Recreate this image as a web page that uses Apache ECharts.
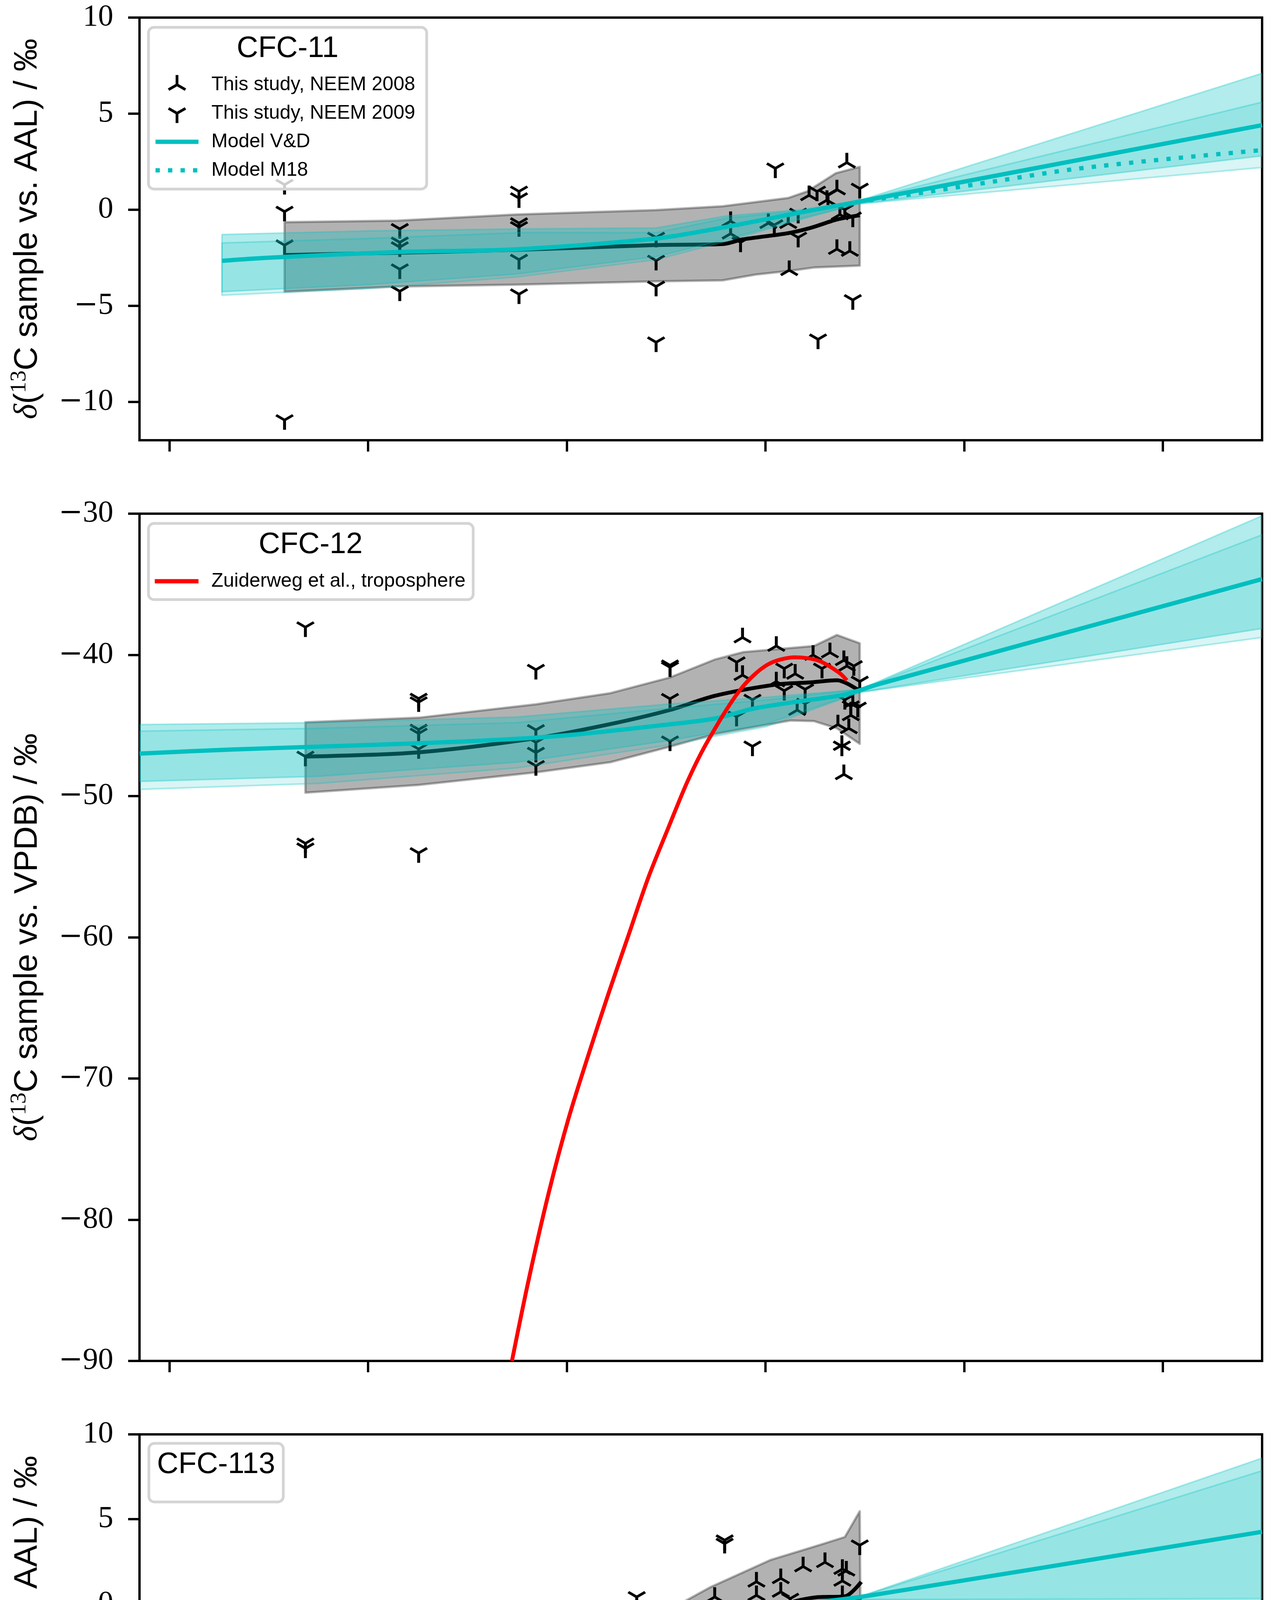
<!DOCTYPE html>
<html><head><meta charset="utf-8">
<script src="https://cdn.jsdelivr.net/npm/echarts@6/dist/echarts.min.js"></script>
<style>html,body{margin:0;padding:0;background:#fff}#c{width:3263px;height:4997px}</style>
</head><body><div id="c"></div>
<script>
// ---------------- DATA ----------------
var xTicks = [1940, 1960, 1980, 2000, 2020, 2040];
var cfc11Ticks = [-10, -5, 0, 5, 10];

// CFC-11
var cfc11_neem2008 = [[1996.5,-0.6],[1996.5,-1.25],[2000.3,-0.7],[2002.3,-0.7],[2002.4,-3.15],[2004.4,0.75],[2006.2,0.5],[2007.2,1.05],[2007.2,-2.05],[2007.5,-0.25],[2008.2,2.45],[2008.5,-2.15]];
var cfc11_neem2009 = [[1951.6,1.3],[1951.6,-0.1],[1951.6,-1.85],[1951.6,-10.95],[1963.2,-1.0],[1963.2,-1.7],[1963.2,-1.95],[1963.2,-3.1],[1963.2,-4.25],[1975.2,0.95],[1975.2,0.6],[1975.2,-0.7],[1975.2,-0.9],[1975.2,-2.6],[1975.2,-4.4],[1989.0,-1.45],[1989.0,-2.65],[1989.0,-4.0],[1989.0,-6.9],[1997.5,-1.7],[2000.9,-0.8],[2001.0,2.15],[2003.3,-0.2],[2003.3,-1.45],[2005.2,0.95],[2005.3,-6.75],[2006.3,0.75],[2008.0,0.0],[2008.8,-0.4],[2008.8,-4.7],[2009.5,1.1]];
var cfc11_vd = [[1945.3,-2.66],[1950,-2.5],[1963.2,-2.2],[1975,-2.06],[1989,-1.5],[1996,-0.9],[2003.5,-0.15],[2009.2,0.4],[2050,4.4]];
var cfc11_m18 = [[2009.2,0.4],[2016,0.9],[2023.4,1.5],[2030.9,2.1],[2040.9,2.66],[2050,3.1]];
var cfc11_fit = [[1951.6,-2.36],[1963,-2.24],[1975,-2.09],[1989,-1.84],[1995.7,-1.79],[1997.7,-1.55],[2002.3,-1.22],[2004.6,-0.94],[2007.2,-0.51],[2009.5,-0.29]];
var cfc11_fit_upper = [[1951.6,-0.65],[1963,-0.57],[1975,-0.25],[1989,-0.02],[1995.7,0.18],[2002.3,0.61],[2004.2,0.95],[2007.1,1.9],[2009.5,2.23]];
var cfc11_fit_lower = [[1951.6,-4.27],[1963,-4.0],[1975,-3.9],[1989,-3.73],[1995.7,-3.68],[1999,-3.38],[2002.5,-3.18],[2004.9,-3.01],[2009.5,-2.91]];
var cfc11_vd_upper = [[1945.3,-1.29],[1960,-1.1],[1975,-1.0],[1989,-0.95],[1996,-0.33],[2003.6,0.0],[2009.3,0.45],[2050,7.1]];
var cfc11_vd_lower = [[1945.3,-4.27],[1960,-3.9],[1975,-3.35],[1989,-2.45],[1996,-1.55],[2003.6,-0.45],[2009.3,0.3],[2050,2.8]];
var cfc11_m18_upper = [[1945.3,-1.73],[1960,-1.5],[1975,-1.2],[1989,-1.2],[1996,-0.45],[2003.6,-0.05],[2009.3,0.45],[2050,5.6]];
var cfc11_m18_lower = [[1945.3,-4.45],[1960,-4.1],[1975,-3.5],[1989,-2.6],[1996,-1.65],[2003.6,-0.5],[2009.3,0.3],[2050,2.2]];

// CFC-12
var cfc12_neem2008 = [[1997.7,-38.77],[2001.1,-39.37],[1997.7,-41.43],[2003.0,-41.34],[2001.1,-41.89],[2003.2,-43.91],[2004.8,-40.01],[2006.5,-39.83],[2007.9,-40.38],[2008.2,-40.79],[2008.8,-43.36],[2008.6,-44.28],[2007.3,-44.93],[2008.4,-45.2],[2007.7,-46.39],[2007.9,-48.46]];
var cfc12_neem2009 = [[1953.7,-38.04],[1953.7,-47.2],[1953.7,-53.35],[1953.7,-53.7],[1965.1,-43.1],[1965.1,-43.35],[1965.1,-45.29],[1965.1,-45.57],[1965.1,-46.67],[1965.1,-54.03],[1976.9,-41.05],[1976.9,-45.32],[1976.9,-46.2],[1976.9,-46.92],[1976.9,-47.86],[1990.4,-40.74],[1990.4,-40.88],[1990.4,-43.11],[1990.4,-46.12],[1997.1,-40.52],[1998.7,-43.17],[1997.1,-44.37],[1998.7,-46.48],[2001.9,-40.97],[2001.9,-42.54],[2004.0,-42.44],[2004.0,-43.45],[2005.7,-40.97],[2008.9,-40.79],[2009.5,-41.89],[2008.0,-43.18],[2008.6,-43.64],[2009.3,-43.73],[2007.7,-46.48]];
var cfc12_vd = [[1937,-46.99],[1946.3,-46.7],[1955.8,-46.48],[1970.1,-46.12],[1979.6,-45.72],[1989.2,-45.01],[1994.9,-44.51],[1998.7,-43.82],[2002.8,-43.35],[2008,-42.81],[2011.4,-42.07],[2050,-34.63]];
var cfc12_fit = [[1953.7,-47.2],[1965.1,-46.9],[1976.9,-45.9],[1984.4,-44.9],[1990.4,-43.9],[1994.9,-42.9],[2001.1,-42.1],[2004.5,-41.95],[2007.2,-41.8],[2009.6,-42.6]];
var cfc12_fit_upper = [[1953.7,-44.77],[1965.1,-44.45],[1976.9,-43.5],[1984.4,-42.71],[1990.4,-41.6],[1994.9,-40.33],[1997.8,-39.8],[2004.9,-39.37],[2007.2,-38.59],[2009.5,-39.18]];
var cfc12_fit_lower = [[1953.7,-49.76],[1965.1,-49.21],[1976.9,-48.32],[1984.4,-47.6],[1990.4,-46.5],[1994.9,-45.61],[2002.5,-44.65],[2004.9,-44.69],[2007.2,-45.2],[2009.5,-46.3]];
var cfc12_vd_upper = [[1937,-44.93],[1955,-44.8],[1975,-44.4],[1990,-43.5],[2000,-43.0],[2009.5,-42.45],[2050,-30.15]];
var cfc12_vd_lower = [[1937,-48.96],[1955,-48.6],[1975,-47.6],[1990,-46.1],[2000,-44.9],[2009.5,-42.65],[2050,-38.13]];
var cfc12_m18_upper = [[1937,-45.4],[1955,-45.2],[1975,-44.8],[1990,-43.8],[2000,-43.2],[2009.5,-42.45],[2050,-31.5]];
var cfc12_m18_lower = [[1937,-49.52],[1955,-49.1],[1975,-48.0],[1990,-46.4],[2000,-45.1],[2009.5,-42.65],[2050,-38.76]];
var cfc12_zuiderweg = [[1974.49,-90],[1976.19,-84.2],[1978.19,-78.1],[1980.2,-72.8],[1982.2,-68.3],[1984.2,-64.0],[1986.2,-59.9],[1988.2,-55.8],[1990.2,-52.3],[1992.2,-48.9],[1994.2,-46.1],[1997.5,-42.44],[2000.2,-40.7],[2003.0,-40.17],[2005.4,-40.42],[2007.4,-41.25],[2008.2,-41.8]];

// CFC-113
var cfc113_neem2008 = [[1994.9,0.4],[1994.9,-0.95],[1999.1,1.3],[1999.1,0.5],[2001.55,1.5],[2001.55,0.7],[2003.8,2.2],[2003.8,-1.45],[2006.0,2.45],[2006.0,-1.1],[2007.75,2.05],[2008.15,1.95],[2007.75,1.35],[2007.75,0.5],[2008.5,-0.95],[2008.15,-2.4]];
var cfc113_neem2009 = [[1973.0,-2.55],[1973.0,-9.75],[1973.0,-9.9],[1973.0,-11.1],[1973.0,-13.8],[1973.0,-14.0],[1987.05,0.4],[1987.05,-2.55],[1987.05,-5.4],[1987.05,-12.55],[1994.1,-2.0],[1994.1,-2.35],[1995.9,3.75],[1995.9,3.55],[1999.8,-0.9],[1999.8,-1.1],[2002.5,0.3],[2002.5,-0.6],[2004.75,-0.25],[2004.75,-1.5],[2007.3,-0.55],[2007.3,-1.3],[2008.8,0.05],[2008.8,-1.35],[2009.5,3.45]];
var cfc113_vd = [[1961.4,-1.66],[1972.4,-1.39],[1986.4,-1.18],[1992.8,-0.9],[1996.9,-0.62],[2003.4,-0.06],[2011,0.53],[2050,4.25]];
var cfc113_fit = [[1972.9,-7.67],[1977.7,-6.96],[1982.2,-5.98],[1987.05,-4.75],[1989.95,-3.78],[1994.1,-2.37],[1997.0,-1.31],[1999.8,-0.6],[2002.25,0.02],[2005.0,0.37],[2008.0,0.44],[2009.65,1.29]];
var cfc113_fit_upper = [[1973.0,-4.48],[1977.7,-3.86],[1982.9,-2.72],[1988.2,-1.04],[1994.5,0.99],[2000.5,2.58],[2005.4,3.46],[2008.0,3.94],[2009.5,5.46]];
var cfc113_fit_lower = [[1973.0,-10.76],[1977.7,-10.04],[1982.9,-8.9],[1988.2,-7.48],[1994.5,-5.54],[2000.5,-3.95],[2003.5,-2.98],[2005.0,-2.98],[2006.5,-3.35],[2008.0,-2.88],[2009.6,-2.92]];
var cfc113_vd_upper = [[1961.4,-0.07],[1990,-0.05],[1996.9,0.0],[2003.4,0.15],[2009.5,0.42],[2050,8.6]];
var cfc113_vd_lower = [[1961.4,-2.8],[1986.4,-2.45],[1996.9,-1.55],[2003.4,-0.5],[2009.5,0.25],[2050,0.3]];
var cfc113_m18_upper = [[1961.4,-0.1],[1990,-0.08],[1996.9,-0.05],[2003.4,0.1],[2009.5,0.42],[2050,7.85]];
var cfc113_m18_lower = [[1961.4,-3.5],[1986.4,-2.7],[1996.9,-1.7],[2003.4,-0.6],[2009.5,0.22],[2050,0.2]];

// ---------------- STYLE / HELPERS ----------------
var SERIF = "'Liberation Serif', 'DejaVu Serif', serif";
var SANS = "'Liberation Sans', 'DejaVu Sans', sans-serif";
var CYAN = '#00bfbf';
var TRI_DOWN = 'path://M0,0L0,100M0,0L-86.6,-50M0,0L86.6,-50';
var TRI_UP = 'path://M0,0L0,-100M0,0L-86.6,50M0,0L86.6,50';
var GRID_LEFT = 357, GRID_W = 2873;
var grids = [
  {left: GRID_LEFT, top: 45, width: GRID_W, height: 1082},
  {left: GRID_LEFT, top: 1315, width: GRID_W, height: 2169},
  {left: GRID_LEFT, top: 3672, width: GRID_W, height: 1084}
];

function band(ax, upper, lower, fill, stroke, lw, z) {
  return {
    type: 'custom', xAxisIndex: ax, yAxisIndex: ax, z: z, clip: true, silent: true,
    data: upper,
    renderItem: function (params, api) {
      if (params.dataIndex !== 0) return null;
      var pts = [];
      for (var i = 0; i < upper.length; i++) pts.push(api.coord(upper[i]));
      for (var j = lower.length - 1; j >= 0; j--) pts.push(api.coord(lower[j]));
      return {type: 'polygon', shape: {points: pts}, style: {fill: fill, stroke: stroke, lineWidth: lw, lineJoin: 'round'}};
    }
  };
}
function lineS(ax, data, color, width, z, dash) {
  return {
    type: 'line', xAxisIndex: ax, yAxisIndex: ax, data: data, showSymbol: false, symbol: 'none',
    smooth: 0.3, silent: true, z: z,
    lineStyle: {color: color, width: width, type: dash || 'solid', cap: 'butt', join: 'round'}
  };
}
function triS(ax, data, up) {
  return {
    type: 'scatter', xAxisIndex: ax, yAxisIndex: ax, data: data, silent: true, z: 3,
    symbol: up ? TRI_UP : TRI_DOWN, symbolSize: [43, 37.5],
    symbolOffset: [0, up ? '-16.667%' : '16.667%'],
    itemStyle: {color: 'rgba(0,0,0,0)', borderColor: '#000', borderWidth: 7, opacity: 1}
  };
}
function minusFmt(v) { return v < 0 ? '{m|\u2212}' + Math.abs(v) : String(v); }
var labelRich = {m: {fontFamily: "'DejaVu Serif', serif", fontSize: 74, color: '#000'}};
function xAxisCfg(gi) {
  var c = {
    type: 'value', gridIndex: gi, min: 1937, max: 2050,
    axisLine: {show: true, onZero: false, lineStyle: {color: '#000', width: 6}},
    axisTick: {show: true, length: 29, customValues: xTicks, lineStyle: {color: '#000', width: 6}},
    axisLabel: {show: gi === 2, customValues: xTicks, color: '#000', fontFamily: SERIF, fontSize: 78, margin: 50},
    splitLine: {show: false}
  };
  if (gi === 2) {
    c.name = 'Date'; c.nameLocation = 'middle'; c.nameGap = 158;
    c.nameTextStyle = {fontFamily: SANS, fontSize: 82, color: '#000'};
  }
  return c;
}
function yAxisCfg(gi, min, max, interval, custom, ref) {
  var c = {
    type: 'value', gridIndex: gi, min: min, max: max,
    axisLine: {show: true, onZero: false, lineStyle: {color: '#000', width: 6}},
    axisTick: {show: true, length: 29, lineStyle: {color: '#000', width: 6}},
    axisLabel: {show: true, color: '#000', fontFamily: SERIF, fontSize: 78, margin: 67, formatter: minusFmt, rich: labelRich},
    splitLine: {show: false},
    name: '{d|\u03b4}{t|(}{s|13}{t|C sample vs. ' + ref + ') / \u2030}',
    nameLocation: 'middle', nameGap: 236, nameRotate: 90,
    nameTextStyle: {
      color: '#000',
      rich: {
        d: {fontFamily: SERIF, fontStyle: 'italic', fontSize: 84, lineHeight: 100, color: '#000'},
        t: {fontFamily: SANS, fontSize: 84, lineHeight: 100, color: '#000'},
        s: {fontFamily: SERIF, fontSize: 58, lineHeight: 58, verticalAlign: 'top', color: '#000'}
      }
    }
  };
  if (interval) c.interval = interval;
  if (custom) { c.axisTick.customValues = custom; c.axisLabel.customValues = custom; }
  return c;
}

// legend graphics
function gRect(x, y, w, h) {
  return {type: 'rect', z: 100, shape: {x: x, y: y, width: w, height: h, r: 14},
    style: {fill: 'rgba(255,255,255,0.8)', stroke: '#d4d4d4', lineWidth: 7}};
}
function gText(x, y, str, size, align) {
  return {type: 'text', z: 101, x: x, y: y,
    style: {text: str, font: size + 'px ' + SANS, fill: '#000', align: align, verticalAlign: 'middle',
      textAlign: align, textVerticalAlign: 'middle'}};
}
function gLine(x1, y1, x2, y2, color, w, dash) {
  var s = {stroke: color, lineWidth: w, lineCap: 'butt'};
  if (dash) s.lineDash = dash;
  return {type: 'line', z: 101, shape: {x1: x1, y1: y1, x2: x2, y2: y2}, style: s};
}
function gTri(cx, cy, up) {
  var L = 25, dx = 0.866 * L, s = up ? -1 : 1;
  return [
    gLine(cx, cy, cx, cy + s * L, '#000', 7),
    gLine(cx, cy, cx - dx, cy - s * 0.5 * L, '#000', 7),
    gLine(cx, cy, cx + dx, cy - s * 0.5 * L, '#000', 7)
  ];
}
var graphics = [];
// CFC-11 legend
graphics.push(gRect(380, 70, 712, 414));
graphics.push(gText(736, 125, 'CFC-11', 76, 'center'));
graphics = graphics.concat(gTri(453, 217, true));
graphics.push(gText(541, 217, 'This study, NEEM 2008', 50, 'left'));
graphics = graphics.concat(gTri(453, 290, false));
graphics.push(gText(541, 290, 'This study, NEEM 2009', 50, 'left'));
graphics.push(gLine(398, 363, 508, 363, CYAN, 11));
graphics.push(gText(541, 363, 'Model V&D', 50, 'left'));
graphics.push(gLine(398, 436, 508, 436, CYAN, 11, [11, 21]));
graphics.push(gText(541, 436, 'Model M18', 50, 'left'));
// CFC-12 legend
graphics.push(gRect(380, 1340, 831, 195));
graphics.push(gText(795, 1395, 'CFC-12', 76, 'center'));
graphics.push(gLine(396, 1488, 508, 1488, '#ff0000', 11));
graphics.push(gText(541, 1488, 'Zuiderweg et al., troposphere', 50, 'left'));
// CFC-113 legend
graphics.push(gRect(381, 3695, 344, 150));
graphics.push(gText(553, 3750, 'CFC-113', 76, 'center'));

// ---------------- SERIES ----------------
var GRAY_FILL = 'rgba(0,0,0,0.3)', GRAY_EDGE = 'rgba(0,0,0,0.3)';
var CA = 'rgba(0,191,191,0.3)', CB = 'rgba(0,191,191,0.15)', CE = 'rgba(0,191,191,0.3)';
var series = [
  // panel 1
  band(0, cfc11_fit_upper, cfc11_fit_lower, GRAY_FILL, GRAY_EDGE, 6, 1),
  lineS(0, cfc11_fit, '#000', 10, 2),
  triS(0, cfc11_neem2008, true),
  triS(0, cfc11_neem2009, false),
  band(0, cfc11_vd_upper, cfc11_vd_lower, CA, CE, 4, 4),
  band(0, cfc11_m18_upper, cfc11_m18_lower, CB, CE, 4, 4),
  lineS(0, cfc11_vd, CYAN, 11, 5),
  lineS(0, cfc11_m18, CYAN, 11, 5, [11, 21]),
  // panel 2
  band(1, cfc12_fit_upper, cfc12_fit_lower, GRAY_FILL, GRAY_EDGE, 6, 1),
  lineS(1, cfc12_fit, '#000', 10, 2),
  triS(1, cfc12_neem2008, true),
  triS(1, cfc12_neem2009, false),
  band(1, cfc12_vd_upper, cfc12_vd_lower, CA, CE, 4, 4),
  band(1, cfc12_m18_upper, cfc12_m18_lower, CB, CE, 4, 4),
  lineS(1, cfc12_vd, CYAN, 11, 5),
  lineS(1, cfc12_zuiderweg, '#ff0000', 10, 6),
  // panel 3
  band(2, cfc113_fit_upper, cfc113_fit_lower, GRAY_FILL, GRAY_EDGE, 6, 1),
  lineS(2, cfc113_fit, '#000', 10, 2),
  triS(2, cfc113_neem2008, true),
  triS(2, cfc113_neem2009, false),
  band(2, cfc113_vd_upper, cfc113_vd_lower, CA, CE, 4, 4),
  band(2, cfc113_m18_upper, cfc113_m18_lower, CB, CE, 4, 4),
  lineS(2, cfc113_vd, CYAN, 11, 5)
];

var option = {
  animation: false,
  backgroundColor: '#fff',
  textStyle: {fontFamily: SANS},
  grid: grids.map(function (g) {
    return {left: g.left, top: g.top, width: g.width, height: g.height, show: true,
      borderColor: '#000', borderWidth: 6, backgroundColor: 'rgba(0,0,0,0)', containLabel: false, outerBoundsMode: 'none'};
  }),
  xAxis: [xAxisCfg(0), xAxisCfg(1), xAxisCfg(2)],
  yAxis: [
    yAxisCfg(0, -12, 10, null, cfc11Ticks, 'AAL'),
    yAxisCfg(1, -90, -30, 10, null, 'VPDB'),
    yAxisCfg(2, -15, 10, 5, null, 'AAL')
  ],
  graphic: graphics,
  series: series
};
var chart = echarts.init(document.getElementById('c'), null, {renderer: 'canvas', width: 3263, height: 4997});
chart.setOption(option);
</script></body></html>
